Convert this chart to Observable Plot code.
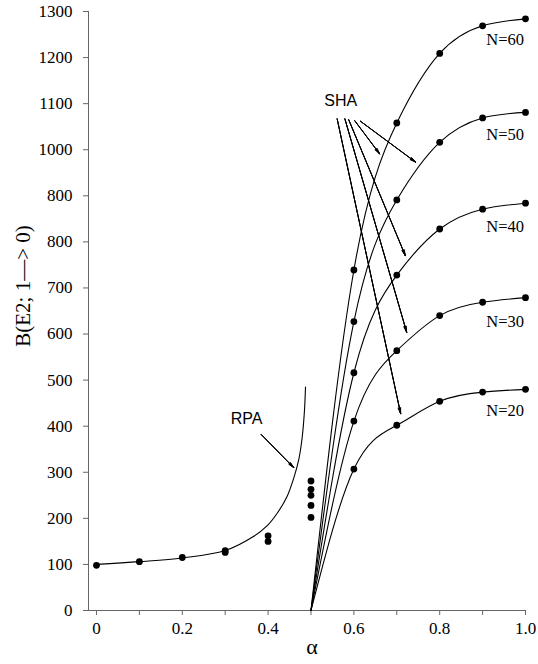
<!DOCTYPE html>
<html>
<head>
<meta charset="utf-8">
<script src="https://cdn.jsdelivr.net/npm/d3@7"></script>
<script src="https://cdn.jsdelivr.net/npm/@observablehq/plot@0.6"></script>
<style>
  html, body { margin: 0; padding: 0; background: #fff; }
</style>
</head>
<body>
<div id="chart"></div>
<script>
// ---- data ----
const xTicks = [0, 0.1, 0.2, 0.3, 0.4, 0.5, 0.6, 0.7, 0.8, 0.9, 1.0];
const xTickLabels = ["0", "0.2", "0.4", "0.6", "0.8", "1.0"];
const yTicks = [0, 100, 200, 300, 400, 500, 600, 700, 800, 900, 1000, 1100, 1200, 1300];
const yTickLabels = ["0", "100", "200", "300", "400", "500", "600", "700", "800", "800", "1000", "1100", "1200", "1300"];

// RPA data points
const rpaAlpha = [0, 0.1, 0.2, 0.3, 0.3, 0.4, 0.4, 0.5, 0.5, 0.5, 0.5, 0.5];
const rpaValue = [98, 106, 115, 130, 126, 162, 150, 281, 263, 250, 228, 202];

// RPA curve
const rpaCurveAlpha = [0, 0.1, 0.2, 0.3, 0.3667, 0.398, 0.4212, 0.4445, 0.46, 0.4716, 0.4795, 0.4848, 0.4872];
const rpaCurveValue = [100, 106, 114, 130, 161, 184, 211, 248, 288, 328, 376, 434, 485];

// SHA curves
const shaStart = [0.5, 0];
const shaAlpha = [0.6, 0.7, 0.8, 0.9, 1.0];
const shaN = ["N=20", "N=30", "N=40", "N=50", "N=60"];
const n20 = [307, 402, 454, 474, 480];
const n30 = [411, 564, 640, 669, 679];
const n40 = [516, 728, 828, 871, 884];
const n50 = [627, 891, 1016, 1069, 1081];
const n60 = [739, 1058, 1209, 1269, 1284];
const shaSeries = [n20, n30, n40, n50, n60];

// annotations (data coordinates)
const labelText = ["RPA", "SHA"];
const labelX = [0.3497, 0.5695];
const labelY = [415, 1107];
const nLabelX = 0.9527;
const nLabelY = [434, 626, 832, 1032, 1239];

const rpaArrow = {x1: [0.3839], y1: [382], x2: [0.4599], y2: [310]};
const shaArrowX1 = [0.561, 0.579, 0.588, 0.602, 0.615];
const shaArrowY1 = [1067, 1067, 1065, 1063, 1062];
const shaArrowX2 = [0.709, 0.723, 0.720, 0.660, 0.744];
const shaArrowY2 = [427, 604, 770, 991, 973];

const yLabel = "B(E2; 1—> 0)";
const xLabel = "α";

// ---- build tables ----
const rpaDots = rpaAlpha.map((a, i) => ({a, v: rpaValue[i]}));
const rpaCurve = rpaCurveAlpha.map((a, i) => ({a, v: rpaCurveValue[i]}));
const shaLines = [];
const shaDots = [];
shaSeries.forEach((s, k) => {
  shaLines.push({a: shaStart[0], v: shaStart[1], n: shaN[k]});
  s.forEach((v, i) => {
    shaLines.push({a: shaAlpha[i], v, n: shaN[k]});
    shaDots.push({a: shaAlpha[i], v});
  });
});
const shaArrows = shaArrowX1.map((x1, i) => ({x1, y1: shaArrowY1[i], x2: shaArrowX2[i], y2: shaArrowY2[i]}));
const rpaArrows = rpaArrow.x1.map((x1, i) => ({x1, y1: rpaArrow.y1[i], x2: rpaArrow.x2[i], y2: rpaArrow.y2[i]}));
const allArrows = rpaArrows.concat(shaArrows);
const labels = labelText.map((t, i) => ({t, x: labelX[i], y: labelY[i]}));
const nLabels = shaN.map((t, i) => ({t, x: nLabelX, y: nLabelY[i]}));

const serif = "'Liberation Serif', 'Times New Roman', serif";
const sans = "'Liberation Sans', Arial, sans-serif";
const xMin = -0.0186;

const arrowMarks = [8, 16, 24].map(angle =>
  Plot.arrow(allArrows, {x1: "x1", y1: "y1", x2: "x2", y2: "y2", stroke: "#000", strokeWidth: 1, headLength: 9, headAngle: angle})
);

const chart = Plot.plot({
  width: 538,
  height: 664,
  marginLeft: 88,
  marginRight: 13,
  marginTop: 11,
  marginBottom: 54,
  style: {fontFamily: serif, fontSize: "17px", color: "#000", background: "#fff"},
  x: {domain: [xMin, 1], axis: null},
  y: {domain: [0, 1300], axis: null},
  marks: [
    Plot.axisX(xTicks, {tickSize: 5, tickPadding: 6, stroke: "#666", fill: "#000", fontSize: 17, fontFamily: serif,
      tickFormat: (d, i) => (i % 2 === 0 ? xTickLabels[i / 2] : ""), label: null}),
    Plot.axisY(yTicks, {tickSize: 5, tickPadding: 11, stroke: "#666", fill: "#000", fontSize: 17, fontFamily: serif,
      tickFormat: (d, i) => yTickLabels[i], label: null}),
    Plot.ruleY([0], {x1: xMin, x2: 1, stroke: "#666"}),
    Plot.ruleX([xMin], {y1: 0, y2: 1300, stroke: "#666"}),
    Plot.line(rpaCurve, {x: "a", y: "v", curve: "catmull-rom", stroke: "#000", strokeWidth: 1.1}),
    Plot.line(shaLines, {x: "a", y: "v", z: "n", curve: "natural", stroke: "#000", strokeWidth: 1.1}),
    ...arrowMarks,
    Plot.dot(rpaDots, {x: "a", y: "v", r: 3.4, fill: "#000"}),
    Plot.dot(shaDots, {x: "a", y: "v", r: 3.4, fill: "#000"}),
    Plot.text(labels, {x: "x", y: "y", text: "t", fontFamily: sans, fontSize: 16, fill: "#000"}),
    Plot.text(nLabels, {x: "x", y: "y", text: "t", fontFamily: serif, fontSize: 16.5, fill: "#000"}),
    Plot.text([yLabel], {frameAnchor: "left", textAnchor: "middle", rotate: -90, dx: -65, dy: -25, fontFamily: serif, fontSize: 21, fill: "#000"}),
    Plot.text([xLabel], {frameAnchor: "bottom", textAnchor: "middle", dx: 5, dy: 43, fontFamily: serif, fontSize: 22, fill: "#000"})
  ]
});
document.getElementById("chart").appendChild(chart);
</script>
</body>
</html>
